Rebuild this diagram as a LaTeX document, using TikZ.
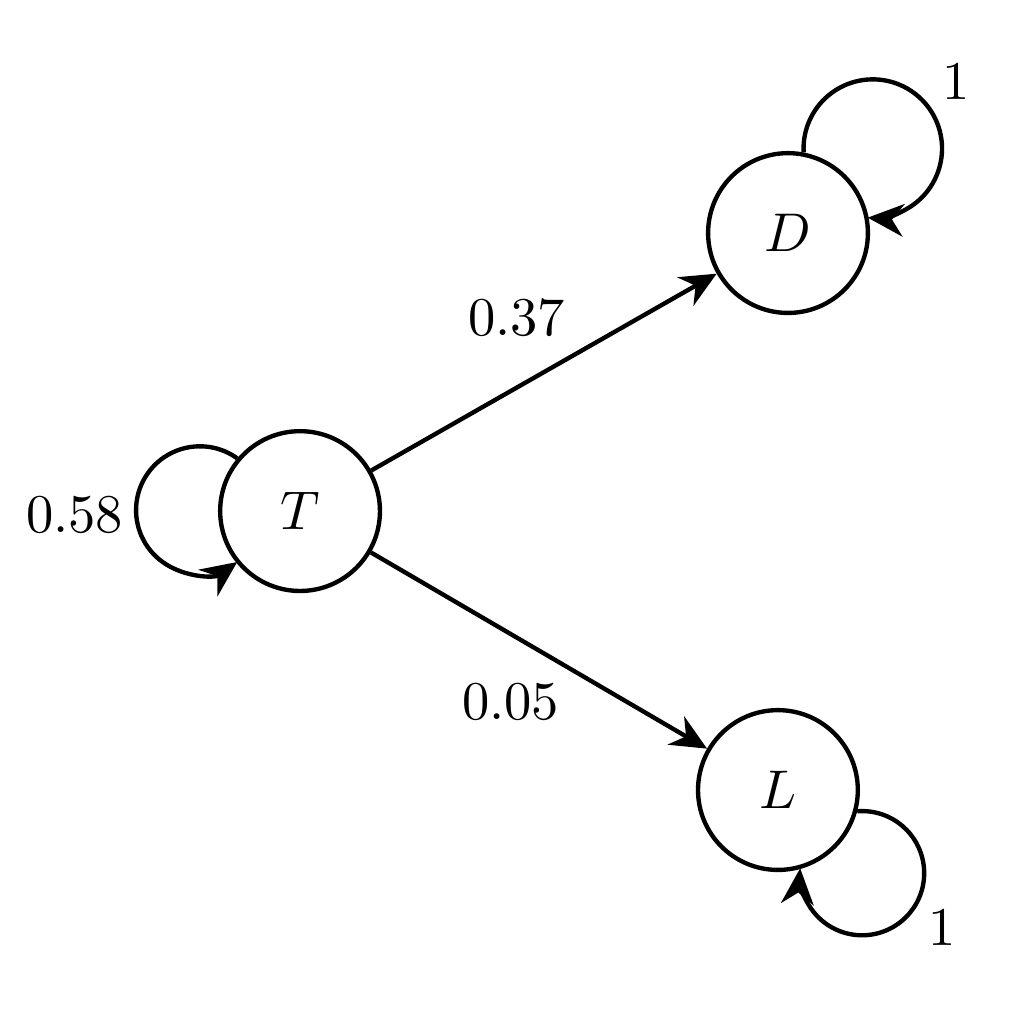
\documentclass[tikz,border=0pt]{standalone}
\usepackage{amsmath,amssymb}
\usepackage{tikz}
\usetikzlibrary{arrows.meta, calc}

\begin{document}
\begin{tikzpicture}[thick]
    % Styles
    \tikzstyle{statenode} = [circle, draw, minimum size=1.03cm, inner sep=0pt]
    \tikzstyle{arrow} = [thick,->,>={Stealth[length=6.6pt, width=6pt]}]

    \useasboundingbox (0,0) rectangle (6.6,6.6);

    % States
    \node (T) [statenode] at (1.934,3.306) {$T$};
    \node (D) [statenode] at (5.079,5.098) {$D$};
    \node (L) [statenode] at (5.014,1.508) {$L$};

    % Transitions
    \draw [arrow] (T) -- node[pos=0.62, above left, yshift=-1.4pt] {$0.37$} (D);
    \draw [arrow] (T) -- node[pos=0.62, below left, yshift=1.9pt] {$0.05$} (L);

    % Self loops
    \draw [arrow] (T.140) arc[start angle=54.3, end angle=305.7, radius=0.4116];
    \draw [arrow] (D.79) arc[start angle=183.2, end angle=-94.2, radius=0.4463];
    \draw [arrow] (L.-15) arc[start angle=94.5, end angle=-184.5, radius=0.4003];

    % Loop labels
    \node (pT) at ($(T)+(-1.452,-0.026)$) {$0.58$};
    \node (pD) at ($(D)+(1.084,0.974)$) {$1$};
    \node (pL) at ($(L)+(1.058,-0.890)$) {$1$};

\end{tikzpicture}
\end{document}
